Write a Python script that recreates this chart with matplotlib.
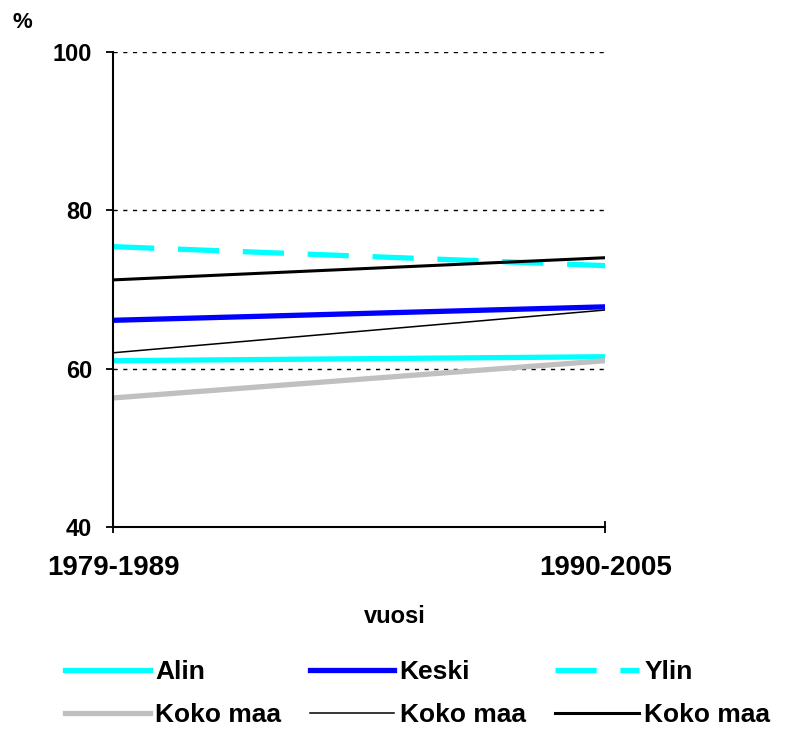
import matplotlib
matplotlib.use('Agg')
import matplotlib.pyplot as plt

plt.rcParams['font.family'] = ['Liberation Sans', 'DejaVu Sans']
plt.rcParams['font.weight'] = 'bold'

periods = ['1979-1989', '1990-2005']
alin = [61.0, 61.5]
keski = [66.1, 67.8]
ylin = [75.4, 73.0]
koko_gray = [56.3, 61.0]
koko_thin = [62.0, 67.4]
koko_thick = [71.2, 74.0]
y_ticks = [40, 60, 80, 100]

fig = plt.figure(figsize=(7.85, 7.29), dpi=100)
ax = fig.add_axes([0.144, 0.277, 0.627, 0.652])

x = [0, 1]
l_alin, = ax.plot(x, alin, color='#00ffff', lw=3.8, label='Alin')
l_keski, = ax.plot(x, keski, color='#0000ff', lw=3.8, label='Keski')
l_ylin, = ax.plot(x, ylin, color='#00ffff', lw=3.8, dashes=(7.8, 4.5), label='Ylin')
l_gray, = ax.plot(x, koko_gray, color='#c0c0c0', lw=3.8, label='Koko maa')
l_thin, = ax.plot(x, koko_thin, color='black', lw=1.1, label='Koko maa')
l_thick, = ax.plot(x, koko_thick, color='black', lw=2.2, label='Koko maa')

for v in y_ticks[1:]:
    ax.axhline(v, color='black', lw=1, ls=(0, (3, 4)), zorder=0)

ax.set_xlim(0, 1)
ax.set_ylim(40, 100)
ax.set_yticks(y_ticks)
ax.set_xticks(x)
ax.set_xticklabels(periods)
ax.tick_params(axis='y', labelsize=17, length=5, width=1.3, pad=10)
ax.tick_params(axis='x', labelsize=20, length=8, width=1.3, direction='inout', pad=16)
ax.spines['top'].set_visible(False)
ax.spines['right'].set_visible(False)
ax.spines['left'].set_linewidth(1.5)
ax.spines['bottom'].set_linewidth(1.5)

fig.text(0.503, 0.154, 'vuosi', fontsize=17, fontweight='bold', ha='center', va='center')
fig.text(0.016, 0.962, '%', fontsize=16, fontweight='bold')

# legend fills column-wise, so order handles to read row by row
handles = [l_alin, l_gray, l_keski, l_thin, l_ylin, l_thick]
fig.legend(handles=handles, labels=[h.get_label() for h in handles],
           loc='upper left', bbox_to_anchor=(0.083, 0.095), ncol=3, frameon=False,
           fontsize=19, handlelength=3.2, handletextpad=0.2, columnspacing=1.1,
           labelspacing=0.72, borderpad=0, borderaxespad=0)

fig.savefig('out.png', dpi=100)
